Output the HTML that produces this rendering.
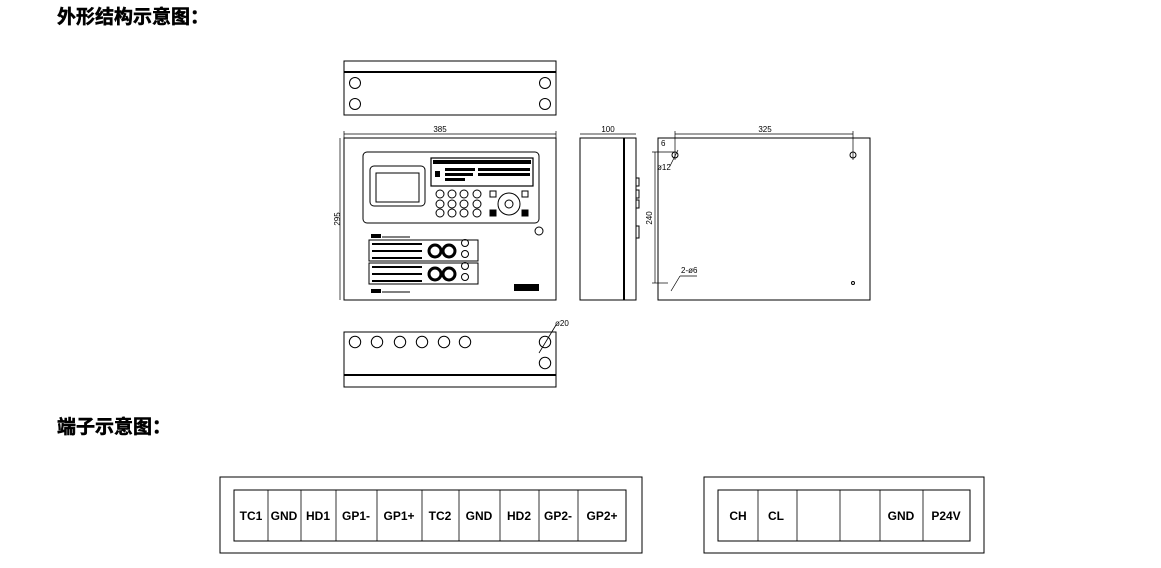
<!DOCTYPE html>
<html><head><meta charset="utf-8"><style>
body{margin:0;background:#fff;width:1161px;height:568px;overflow:hidden}
svg{display:block}
.t{font-family:"Liberation Sans","Noto Sans CJK SC",sans-serif;font-weight:bold}
</style></head><body>
<svg width="1161" height="568" viewBox="0 0 1161 568" xmlns="http://www.w3.org/2000/svg">
<g class="t" font-size="19" fill="#000" stroke="#000" stroke-width="0.5">
<text x="57" y="23">外形结构示意图：</text>
<text x="57" y="433">端子示意图：</text>
</g>
<g fill="none" stroke="#000" stroke-width="1">
<!-- top view -->
<rect x="344" y="61" width="212" height="54"/>
<line x1="344" y1="72" x2="556" y2="72" stroke-width="2"/>
<circle cx="355" cy="83" r="5.5"/><circle cx="545" cy="83" r="5.5"/>
<circle cx="355" cy="104" r="5.5"/><circle cx="545" cy="104" r="5.5"/>
<!-- front view -->
<rect x="344" y="138" width="212" height="162"/>
<line x1="344" y1="134" x2="556" y2="134" stroke-width="0.7"/>
<line x1="344" y1="131" x2="344" y2="138" stroke-width="0.7"/><line x1="556" y1="131" x2="556" y2="138" stroke-width="0.7"/>
<line x1="340" y1="138" x2="340" y2="300" stroke-width="0.7"/>
<rect x="363" y="152" width="176" height="71" rx="4"/>
<rect x="370" y="166" width="55" height="40" rx="4"/>
<rect x="376" y="173" width="43" height="29"/>
<rect x="431" y="158" width="102" height="28" stroke-width="1.2"/>
<g stroke-width="1">
<circle cx="440" cy="194" r="4"/><circle cx="452" cy="194" r="4"/><circle cx="464" cy="194" r="4"/><circle cx="477" cy="194" r="4"/>
<circle cx="440" cy="204" r="4"/><circle cx="452" cy="204" r="4"/><circle cx="464" cy="204" r="4"/><circle cx="477" cy="204" r="4"/>
<circle cx="440" cy="213" r="4"/><circle cx="452" cy="213" r="4"/><circle cx="464" cy="213" r="4"/><circle cx="477" cy="213" r="4"/>
<circle cx="509" cy="204" r="11"/><circle cx="509" cy="204" r="4"/>
<rect x="490" y="191" width="6" height="6"/><rect x="522" y="191" width="6" height="6"/>
<rect x="490" y="210" width="6" height="6" fill="#000"/><rect x="522" y="210" width="6" height="6" fill="#000"/>
<circle cx="539" cy="231" r="4"/>
</g>
<rect x="369" y="240" width="109" height="21"/>
<rect x="369" y="263" width="109" height="21"/>
<circle cx="435" cy="251" r="6" stroke-width="3"/><circle cx="449" cy="251" r="6" stroke-width="3"/>
<circle cx="435" cy="274" r="6" stroke-width="3"/><circle cx="449" cy="274" r="6" stroke-width="3"/>
<circle cx="465" cy="243" r="3.5"/><circle cx="465" cy="254" r="3.5"/>
<circle cx="465" cy="266" r="3.5"/><circle cx="465" cy="277" r="3.5"/>
<line x1="382" y1="237" x2="410" y2="237"/><line x1="382" y1="292" x2="410" y2="292"/>
<!-- side view -->
<rect x="580" y="138" width="56" height="162"/>
<line x1="624" y1="138" x2="624" y2="300" stroke-width="2"/>
<line x1="580" y1="134" x2="636" y2="134" stroke-width="0.7"/>
<rect x="636" y="178" width="3" height="8"/><rect x="636" y="190" width="3" height="8"/><rect x="636" y="200" width="3" height="8"/><rect x="636" y="226" width="3" height="12"/>
<!-- back view -->
<rect x="658" y="138" width="212" height="162"/>
<line x1="675" y1="134" x2="853" y2="134" stroke-width="0.7"/>
<line x1="675" y1="131" x2="675" y2="160" stroke-width="0.7"/><line x1="853" y1="131" x2="853" y2="160" stroke-width="0.7"/>
<circle cx="675" cy="155" r="3"/><circle cx="853" cy="155" r="3"/>
<line x1="655" y1="152" x2="655" y2="283" stroke-width="0.7"/>
<line x1="652" y1="152" x2="675" y2="152" stroke-width="0.7"/><line x1="652" y1="283" x2="668" y2="283" stroke-width="0.7"/>
<line x1="671" y1="291" x2="680" y2="276" stroke-width="0.7"/><line x1="680" y1="276" x2="697" y2="276" stroke-width="0.7"/>
<line x1="670" y1="166" x2="678" y2="150" stroke-width="0.7"/>
<circle cx="853" cy="283" r="1.5"/>
<!-- bottom view -->
<rect x="344" y="332" width="212" height="55"/>
<line x1="344" y1="375" x2="556" y2="375" stroke-width="2"/>
<circle cx="355" cy="342" r="5.7"/><circle cx="377" cy="342" r="5.7"/><circle cx="400" cy="342" r="5.7"/><circle cx="422" cy="342" r="5.7"/><circle cx="444" cy="342" r="5.7"/><circle cx="465" cy="342" r="5.7"/>
<circle cx="545" cy="342" r="5.7"/><circle cx="545" cy="363" r="5.7"/>
<line x1="539" y1="353" x2="556" y2="325" stroke-width="0.8"/>
<!-- terminals -->
<rect x="220" y="477" width="422" height="76"/>
<rect x="234" y="490" width="392" height="51"/>
<rect x="704" y="477" width="280" height="76"/>
<rect x="718" y="490" width="252" height="51"/>
<g stroke-width="0.8">
<line x1="268" y1="490" x2="268" y2="541"/><line x1="301" y1="490" x2="301" y2="541"/><line x1="336" y1="490" x2="336" y2="541"/><line x1="377" y1="490" x2="377" y2="541"/><line x1="422" y1="490" x2="422" y2="541"/><line x1="459" y1="490" x2="459" y2="541"/><line x1="500" y1="490" x2="500" y2="541"/><line x1="539" y1="490" x2="539" y2="541"/><line x1="578" y1="490" x2="578" y2="541"/>
<line x1="758" y1="490" x2="758" y2="541"/><line x1="797" y1="490" x2="797" y2="541"/><line x1="840" y1="490" x2="840" y2="541"/><line x1="880" y1="490" x2="880" y2="541"/><line x1="923" y1="490" x2="923" y2="541"/>
</g>
</g>
<g fill="#000">
<rect x="433" y="160" width="98" height="4"/>
<rect x="445" y="168" width="30" height="3"/><rect x="478" y="168" width="52" height="3"/>
<rect x="445" y="173" width="28" height="3"/><rect x="478" y="173" width="52" height="3"/>
<rect x="445" y="178" width="20" height="3"/><rect x="435" y="171" width="5" height="6"/>
<rect x="514" y="284" width="25" height="7"/>
<rect x="371" y="234" width="10" height="4"/><rect x="371" y="289" width="10" height="4"/>
<rect x="372" y="243" width="50" height="2"/><rect x="372" y="250" width="50" height="2"/><rect x="372" y="257" width="50" height="2"/>
<rect x="372" y="266" width="50" height="2"/><rect x="372" y="273" width="50" height="2"/><rect x="372" y="280" width="50" height="2"/>
</g>
<g font-family="Liberation Sans,sans-serif" font-size="8" fill="#000">
<text x="440" y="132" text-anchor="middle">385</text>
<text x="608" y="132" text-anchor="middle">100</text>
<text x="765" y="132" text-anchor="middle">325</text>
<text x="661" y="146">6</text>
<text x="657" y="170">ø12</text>
<text x="681" y="273">2-ø6</text>
<text x="555" y="326">ø20</text>
<text transform="translate(340,219) rotate(-90)" text-anchor="middle">295</text>
<text transform="translate(652,218) rotate(-90)" text-anchor="middle">240</text>
</g>
<g class="t" font-size="12" fill="#000" text-anchor="middle">
<text x="251" y="520">TC1</text><text x="284" y="520">GND</text><text x="318" y="520">HD1</text><text x="356" y="520">GP1-</text><text x="399" y="520">GP1+</text><text x="440" y="520">TC2</text><text x="479" y="520">GND</text><text x="519" y="520">HD2</text><text x="558" y="520">GP2-</text><text x="602" y="520">GP2+</text>
<text x="738" y="520">CH</text><text x="776" y="520">CL</text><text x="901" y="520">GND</text><text x="946" y="520">P24V</text>
</g>
</svg>
</body></html>
